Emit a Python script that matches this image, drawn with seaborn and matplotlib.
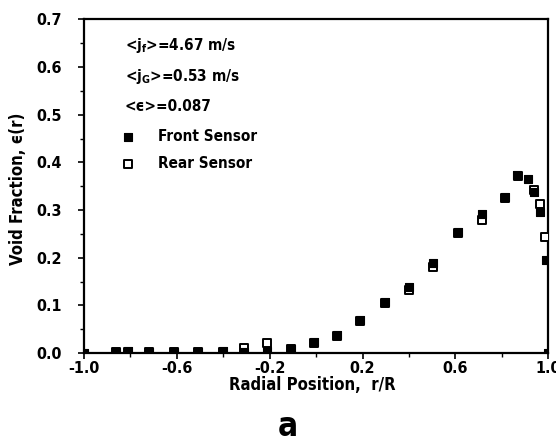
import matplotlib
matplotlib.use("Agg")
import matplotlib.pyplot as plt
import seaborn as sns
import pandas as pd
from matplotlib import font_manager
from matplotlib.ticker import MultipleLocator, FixedLocator

sns.set_theme(style="white")
available = {f.name for f in font_manager.fontManager.ttflist}
if "Liberation Sans Narrow" in available:
    FAM = "Liberation Sans Narrow"
    STRETCH = "normal"
else:
    FAM = "DejaVu Sans"
    STRETCH = "condensed"
plt.rcParams['font.family'] = [FAM, 'DejaVu Sans']
plt.rcParams['font.stretch'] = STRETCH
plt.rcParams['font.weight'] = 'bold'
plt.rcParams['text.color'] = 'black'
plt.rcParams['xtick.color'] = 'black'
plt.rcParams['ytick.color'] = 'black'
plt.rcParams['mathtext.default'] = 'bf'

# Data
front_x = [-1.0, -0.86, -0.81, -0.72, -0.61, -0.51, -0.40, -0.31, -0.21, -0.11, -0.01, 0.09,
           0.19, 0.295, 0.40, 0.505, 0.61, 0.715, 0.815, 0.865, 0.915, 0.94, 0.965, 0.99, 1.0]
front_y = [0.0, 0.003, 0.004, 0.002, 0.003, 0.002, 0.004, 0.003, 0.005, 0.008, 0.024, 0.038,
           0.069, 0.106, 0.139, 0.188, 0.254, 0.291, 0.327, 0.374, 0.365, 0.337, 0.295, 0.195, 0.0]
rear_x = [-0.86, -0.81, -0.72, -0.61, -0.51, -0.40, -0.31, -0.21, -0.11, -0.01, 0.09, 0.19,
          0.295, 0.40, 0.505, 0.61, 0.715, 0.815, 0.87, 0.94, 0.965, 0.985]
rear_y = [0.002, 0.003, 0.002, 0.002, 0.002, 0.003, 0.010, 0.022, 0.008, 0.022, 0.036, 0.068,
          0.104, 0.132, 0.180, 0.252, 0.279, 0.325, 0.372, 0.342, 0.312, 0.244]
x_ticks = [-1.0, -0.6, -0.2, 0.2, 0.6, 1.0]
x_ticklabels = ["-1.0", "-0.6", "-0.2", "0.2", "0.6", "1.0"]
y_ticks = [0.0, 0.1, 0.2, 0.3, 0.4, 0.5, 0.6, 0.7]
y_ticklabels = ["0.0", "0.1", "0.2", "0.3", "0.4", "0.5", "0.6", "0.7"]
annotations = [r"<j$_f$>=4.67 m/s", r"<j$_G$>=0.53 m/s", "<\u03f5>=0.087"]

front = pd.DataFrame({"r": front_x, "eps": front_y})
rear = pd.DataFrame({"r": rear_x, "eps": rear_y})

fig = plt.figure(figsize=(5.56, 4.42), dpi=100)
ax = fig.add_axes([0.151, 0.2014, 0.835, 0.7545])

sns.scatterplot(data=rear, x="r", y="eps", marker="s", s=34, facecolor="white",
                edgecolor="black", linewidth=1.4, ax=ax, label="Rear Sensor", zorder=3)
sns.scatterplot(data=front, x="r", y="eps", marker="s", s=38, color="black",
                edgecolor="black", linewidth=0.8, ax=ax, label="Front Sensor", zorder=4)

ax.set_xlim(-1.0, 1.0)
ax.set_ylim(0.0, 0.7)
ax.xaxis.set_major_locator(FixedLocator(x_ticks))
ax.set_xticklabels(x_ticklabels)
ax.xaxis.set_minor_locator(FixedLocator([-0.8, -0.4, 0.0, 0.4, 0.8]))
ax.yaxis.set_major_locator(FixedLocator(y_ticks))
ax.set_yticklabels(y_ticklabels)
ax.yaxis.set_minor_locator(MultipleLocator(0.05))
ax.tick_params(which="major", direction="out", length=4, width=1.2, labelsize=11.5,
               bottom=True, left=True, top=False, right=False)
ax.tick_params(axis="x", which="major", pad=2)
ax.tick_params(axis="y", which="major", pad=12)
ax.tick_params(which="minor", direction="out", length=3, width=1.0,
               bottom=True, left=True, top=False, right=False)
for lab in ax.get_xticklabels() + ax.get_yticklabels():
    lab.set_fontweight("bold")
for sp in ax.spines.values():
    sp.set_color("black")
    sp.set_linewidth(1.6)

ax.set_xlabel("")
ax.set_ylabel("")
fig.text(312 / 556, 1 - 385 / 442, "Radial Position,  r/R", ha="center", va="center",
         fontsize=12, fontweight="bold")
fig.text(18 / 556, 1 - 189 / 442, "Void Fraction, \u03f5(r)", ha="center", va="center",
         rotation=90, fontsize=12, fontweight="bold")
fig.text(288 / 556, 1 - 436 / 442, "a", ha="center", va="baseline", fontsize=24,
         fontweight="bold")

for txt, yy in zip(annotations, [0.921, 0.828, 0.738]):
    ax.text(0.088, yy, txt, transform=ax.transAxes, ha="left", va="center",
            fontsize=11, fontweight="bold")

handles, labels = ax.get_legend_handles_labels()
order = [labels.index("Front Sensor"), labels.index("Rear Sensor")]
ax.legend([handles[i] for i in order], [labels[i] for i in order], loc="upper left",
          bbox_to_anchor=(0.075, 0.672), frameon=False, handlelength=1.2,
          handletextpad=1.4, labelspacing=0.8, borderpad=0, borderaxespad=0,
          prop={"weight": "bold", "size": 11, "family": [FAM, "DejaVu Sans"],
                "stretch": STRETCH})

fig.savefig("out.png", dpi=100)
